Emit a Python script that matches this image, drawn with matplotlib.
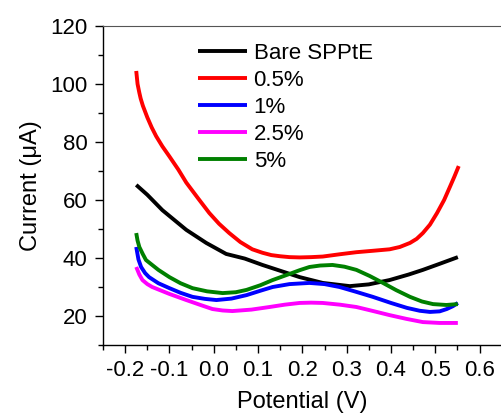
import matplotlib
matplotlib.use("Agg")
import matplotlib.pyplot as plt
from matplotlib.ticker import MultipleLocator

plt.rcParams["font.family"] = ["Liberation Sans", "DejaVu Sans"]

# values
bare_x = [-0.175, -0.15, -0.116, -0.062, -0.017, 0.028, 0.07, 0.11, 0.15, 0.194,
          0.246, 0.307, 0.35, 0.397, 0.44, 0.472, 0.51, 0.551]
bare_y = [65.2, 61.8, 56.5, 49.7, 45.2, 41.4, 39.8, 37.6, 35.6, 33.4,
          31.4, 30.3, 30.9, 32.4, 34.3, 35.9, 38.0, 40.3]

p05_x = [-0.175, -0.172, -0.168, -0.165, -0.16, -0.15, -0.14, -0.13, -0.116, -0.1,
         -0.08, -0.062, -0.035, -0.01, 0.012, 0.035, 0.06, 0.087, 0.11, 0.13,
         0.15, 0.171, 0.194, 0.22, 0.246, 0.285, 0.322, 0.36, 0.397, 0.42,
         0.443, 0.458, 0.472, 0.488, 0.504, 0.52, 0.533, 0.543, 0.553]
p05_y = [104.5, 100.0, 97.0, 95.0, 92.5, 88.5, 85.0, 82.0, 78.5, 75.0,
         70.5, 66.0, 60.5, 55.5, 51.8, 48.6, 45.5, 43.0, 41.8, 41.0,
         40.6, 40.3, 40.2, 40.3, 40.5, 41.3, 42.0, 42.5, 43.0, 43.8,
         45.2, 46.6, 48.6, 51.5, 55.5, 60.0, 64.5, 68.0, 71.7]

p1_x = [-0.175, -0.17, -0.164, -0.155, -0.146, -0.125, -0.1, -0.075, -0.048, -0.02,
        0.006, 0.04, 0.074, 0.105, 0.133, 0.171, 0.216, 0.25, 0.284, 0.32,
        0.359, 0.4, 0.436, 0.465, 0.488, 0.51, 0.526, 0.54, 0.551]
p1_y = [43.8, 39.5, 36.9, 34.8, 33.4, 31.3, 29.6, 28.0, 26.6, 25.9,
        25.5, 26.0, 27.2, 28.7, 30.0, 31.0, 31.4, 31.0, 30.0, 28.4,
        26.6, 24.5, 22.8, 21.8, 21.4, 21.6, 22.4, 23.4, 24.5]

p25_x = [-0.175, -0.168, -0.161, -0.15, -0.139, -0.1, -0.062, -0.03, -0.003, 0.02,
         0.042, 0.085, 0.126, 0.16, 0.194, 0.22, 0.246, 0.285, 0.322, 0.36,
         0.397, 0.435, 0.472, 0.51, 0.551]
p25_y = [36.9, 34.3, 32.4, 31.0, 30.0, 27.6, 25.5, 23.8, 22.4, 21.9,
         21.7, 22.2, 23.1, 23.9, 24.5, 24.6, 24.5, 23.9, 23.1, 21.7,
         20.3, 19.0, 17.9, 17.6, 17.6]

p5_x = [-0.175, -0.172, -0.168, -0.16, -0.153, -0.125, -0.1, -0.075, -0.048, -0.015,
        0.02, 0.05, 0.074, 0.105, 0.133, 0.171, 0.194, 0.216, 0.24, 0.268,
        0.295, 0.322, 0.352, 0.382, 0.412, 0.443, 0.47, 0.495, 0.525, 0.551]
p5_y = [48.6, 46.0, 43.8, 41.3, 39.3, 35.9, 33.4, 31.3, 29.6, 28.5,
        27.9, 28.2, 29.0, 30.6, 32.4, 34.5, 35.8, 36.9, 37.4, 37.6,
        37.0, 35.9, 33.8, 31.4, 28.9, 26.6, 25.0, 24.1, 23.8, 24.1]

labels = ["Bare SPPtE", "0.5%", "1%", "2.5%", "5%"]
colors = ["black", "red", "blue", "magenta", "green"]
series = [(bare_x, bare_y), (p05_x, p05_y), (p1_x, p1_y), (p25_x, p25_y), (p5_x, p5_y)]

fig = plt.figure(figsize=(5.01, 4.15), dpi=100)
ax = fig.add_axes([0.2056, 0.1687, 0.7958, 0.7686])

for (x, y), lab, c in zip(series, labels, colors):
    ax.plot(x, y, color=c, lw=2.8, label=lab, solid_capstyle="butt",
            solid_joinstyle="round")

ax.set_xlim(-0.25, 0.65)
ax.set_ylim(10, 120)
ax.xaxis.set_minor_locator(MultipleLocator(0.05))
ax.yaxis.set_minor_locator(MultipleLocator(10))
ax.set_xticks([-0.2, -0.1, 0.0, 0.1, 0.2, 0.3, 0.4, 0.5, 0.6])
ax.set_xticklabels(["-0.2", "-0.1", "0.0", "0.1", "0.2", "0.3", "0.4", "0.5", "0.6"])
ax.set_yticks([20, 40, 60, 80, 100, 120])

ax.tick_params(which="major", direction="out", length=6, width=1.0, labelsize=16, pad=5)
ax.tick_params(which="minor", direction="out", length=3.5, width=1.0)
ax.tick_params(top=False, right=False)

for s in ["left", "bottom"]:
    ax.spines[s].set_linewidth(1.0)
ax.spines["top"].set_linewidth(0.8)
ax.spines["top"].set_color("#555555")
ax.spines["right"].set_visible(False)

ax.set_xlabel("Potential (V)", fontsize=17, labelpad=7)
ax.set_ylabel("Current (\u03bcA)", fontsize=17, labelpad=6)

ax.legend(loc="upper left", bbox_to_anchor=(0.216, 0.975), frameon=False,
          fontsize=16, handlelength=2.2, handletextpad=0.3, labelspacing=0.27,
          borderaxespad=0.0)

fig.savefig("out.png", dpi=100)
